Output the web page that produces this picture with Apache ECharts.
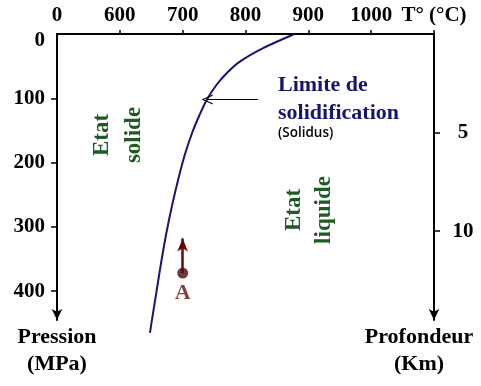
<!DOCTYPE html>
<html>
<head>
<meta charset="utf-8">
<script src="https://cdn.jsdelivr.net/npm/echarts/dist/echarts.min.js"></script>
<style>html,body{margin:0;padding:0;background:#fff;}#c{width:481px;height:386px;}</style>
</head>
<body>
<div id="c"></div>
<script>
// Solidus curve (temperature °C, pressure MPa)
const solidusTemp = [878, 828, 791, 770, 754, 738, 726, 715, 704, 694, 684, 674, 665.5, 658, 649.5, 648];
const solidusPress = [0, 22, 43, 61, 79, 103, 128, 154, 186, 222, 263, 310, 357, 403, 455, 465];
// Point A
const pointA = [700, 372];
const pointAArrowTip = [700, 318];
// Annotation arrow (from text to curve)
const solidusArrowFrom = [820, 102];
const solidusArrowTo = [739, 102];
// Tick labels
const tempTicks = [500, 600, 700, 800, 900, 1000, 1100];
const tempLabels = ['0', '600', '700', '800', '900', '1000', 'T° (°C)'];
const pressTicks = [0, 100, 200, 300, 400];
const depthTicks = [5, 10];

const serif = '"Liberation Serif", "DejaVu Serif", serif';
const navy = '#16166e';
const green = '#1f5a22';

const chart = echarts.init(document.getElementById('c'));
const curve = solidusTemp.map((t, i) => [t, solidusPress[i]]);

const chevron = 'path://M5,0 L10,10 L8.8,10 L5,2.2 L1.2,10 L0,10 Z';

chart.setOption({
  animation: false,
  backgroundColor: '#fff',
  grid: { left: 57, right: 47, top: 34, bottom: 66, containLabel: false },
  xAxis: {
    type: 'value', position: 'top', min: 500, max: 1100, interval: 100,
    axisLine: { show: true, lineStyle: { color: '#000', width: 2 } },
    axisTick: { show: true, length: 4, lineStyle: { color: '#000', width: 1.5 }, customValues: [600, 700, 800, 900, 1000, 1100] },
    axisLabel: {
      margin: 8, color: '#000', fontFamily: serif, fontWeight: 'bold', fontSize: 21,
      customValues: tempTicks,
      formatter: v => tempLabels[tempTicks.indexOf(v)] || ''
    },
    splitLine: { show: false }
  },
  yAxis: [
    {
      type: 'value', inverse: true, min: 0, max: 445, position: 'left',
      axisLine: { show: true, symbol: ['arrow', 'none'], symbolSize: [8, 11], lineStyle: { color: '#000', width: 2 } },
      axisTick: { show: true, length: 6, lineStyle: { color: '#000', width: 1.5 }, customValues: [100, 200, 300, 400] },
      axisLabel: {
        margin: 12, color: '#000', fontFamily: serif, fontWeight: 'bold', fontSize: 21,
        customValues: pressTicks,
        formatter: v => v === 0 ? '{z|0}' : String(v),
        rich: { z: { fontFamily: serif, fontWeight: 'bold', fontSize: 21, color: '#000', padding: [14, 0, 0, 0] } }
      },
      splitLine: { show: false }
    },
    {
      type: 'value', inverse: true, min: 0, max: 14.5, position: 'right',
      axisLine: { show: true, symbol: ['arrow', 'none'], symbolSize: [8, 11], lineStyle: { color: '#000', width: 2 } },
      axisTick: { show: true, length: 6, lineStyle: { color: '#000', width: 1.5 }, customValues: depthTicks },
      axisLabel: {
        margin: 29, align: 'center', color: '#000', fontFamily: serif, fontWeight: 'bold', fontSize: 21,
        customValues: depthTicks
      },
      splitLine: { show: false }
    }
  ],
  series: [
    {
      type: 'line', data: curve, smooth: 0.3, symbol: 'none', clip: false,
      lineStyle: { color: navy, width: 2 },
      markLine: {
        silent: true, symbol: ['none', chevron], symbolSize: [10, 11],
        label: { show: false },
        lineStyle: { color: '#000', width: 1.2, type: 'solid' },
        data: [[{ coord: solidusArrowFrom }, { coord: solidusArrowTo }]]
      }
    },
    {
      type: 'scatter', data: [pointA], symbol: 'circle', symbolSize: 11,
      itemStyle: { color: '#4e0808' },
      label: { show: true, position: 'bottom', distance: 4, formatter: 'A', color: '#6e1010', fontFamily: serif, fontWeight: 'bold', fontSize: 22 },
      markLine: {
        silent: true, symbol: ['none', 'arrow'], symbolSize: [8, 13],
        label: { show: false },
        lineStyle: { color: '#5e0a0a', width: 2.5, type: 'solid' },
        data: [[{ coord: pointA }, { coord: pointAArrowTip }]]
      }
    }
  ],
  graphic: [
    { type: 'text', x: 278, y: 99, style: { text: 'Limite de\nsolidification', fill: navy, font: 'bold 22px ' + serif, lineHeight: 28, align: 'left', verticalAlign: 'middle' } },
    { type: 'text', x: 278, y: 133, style: { text: '(Solidus)', fill: '#000', font: '600 13.5px "Open Sans", sans-serif', align: 'left', verticalAlign: 'middle' } },
    { type: 'text', x: 118, y: 135, rotation: Math.PI / 2, style: { text: 'Etat\nsolide', fill: green, font: 'bold 23px ' + serif, lineHeight: 32, align: 'center', verticalAlign: 'middle' } },
    { type: 'text', x: 309, y: 210, rotation: Math.PI / 2, style: { text: 'Etat\nliquide', fill: green, font: 'bold 23px ' + serif, lineHeight: 30, align: 'center', verticalAlign: 'middle' } },
    { type: 'text', x: 57, y: 351, style: { text: 'Pression\n(MPa)', fill: '#000', font: 'bold 22px ' + serif, lineHeight: 27, align: 'center', verticalAlign: 'middle' } },
    { type: 'text', x: 419, y: 351, style: { text: 'Profondeur\n(Km)', fill: '#000', font: 'bold 22px ' + serif, lineHeight: 27, align: 'center', verticalAlign: 'middle' } }
  ]
});
</script>
</body>
</html>
